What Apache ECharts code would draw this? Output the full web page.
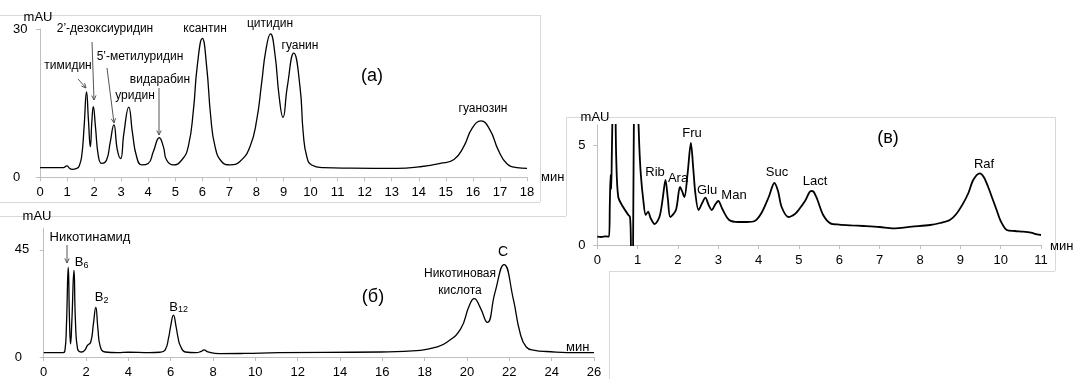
<!DOCTYPE html>
<html>
<head>
<meta charset="utf-8">
<script src="https://cdn.jsdelivr.net/npm/echarts@6/dist/echarts.min.js"></script>
<style>
html, body { margin: 0; padding: 0; background: #fff; }
#chart { width: 1073px; height: 379px; }
</style>
</head>
<body>
<div id="chart"></div>
<script>
// (а) nucleosides, time (min) / signal (mAU)
var aTime = [0, 0.5, 0.86, 0.99, 1.1, 1.18, 1.36, 1.45, 1.54, 1.63, 1.72, 1.79, 1.86, 1.92, 1.97, 2.05, 2.16, 2.28, 2.46, 2.59,
	2.73, 2.86, 2.98, 3.1, 3.28, 3.42, 3.57, 3.76, 4.0, 4.19, 4.41, 4.56, 4.68, 4.93, 5.24, 5.48, 5.67, 5.81, 6.0, 6.16,
	6.31, 6.47, 6.71, 7.02, 7.39, 7.76, 8.01, 8.19, 8.35, 8.52, 8.68, 8.84, 8.98, 9.14, 9.38, 9.61, 9.73, 9.86, 10.04, 10.47,
	11.5, 13.2, 14.0, 14.8, 15.3, 15.66, 15.97, 16.3, 16.63, 16.94, 17.25, 17.62, 18.0];
var aSignal = [1.95, 1.95, 1.95, 2.3, 1.8, 1.6, 1.8, 2.3, 4.2, 10.2, 17.3, 11.6, 6.2, 11.6, 14.3, 10.2, 4.2, 2.8, 3.5, 6.9,
	10.6, 5.5, 3.8, 8.9, 14.2, 8.9, 4.2, 2.5, 2.8, 5.2, 8.0, 6.2, 3.5, 2.5, 3.5, 6.2, 13.6, 22.4, 28.1, 22.4,
	12.3, 6.2, 3.2, 2.5, 3.2, 6.2, 11.6, 19, 25.8, 29.0, 25.1, 16.3, 12.1, 18.3, 25.1, 18.3, 8.9, 4.2, 2.5, 1.95,
	1.85, 1.8, 2.1, 2.8, 3.6, 6.2, 9.9, 11.4, 9.6, 5.5, 2.8, 1.95, 1.8];

// (б) vitamins
var bTime = [0, 0.9, 1.0, 1.07, 1.16, 1.22, 1.27, 1.33, 1.43, 1.5, 1.6, 1.8, 1.95, 2.06, 2.22, 2.35, 2.46, 2.56, 2.66, 2.9,
	3.5, 4.0, 5.0, 5.5, 5.74, 5.9, 6.0, 6.13, 6.25, 6.35, 6.45, 6.69, 7.2, 7.45, 7.58, 7.75, 8.3, 9.5, 11.1, 15.9,
	17.8, 18.5, 19.05, 19.7, 20.1, 20.34, 20.62, 20.96, 21.32, 21.75, 22.19, 22.5, 22.8, 23.2, 23.76, 25.3, 26.0];
var bSignal = [1.8, 1.8, 2.5, 12, 37.6, 15, 5.5, 15, 36.3, 15, 3.4, 2.1, 3, 4.8, 6.2, 14, 20.8, 12, 4.8, 2.1,
	1.8, 2.0, 1.8, 2.0, 3.0, 8, 13, 17.6, 13, 8, 4.8, 2.1, 1.8, 2.4, 3.0, 2.2, 1.4, 1.5, 1.8, 2.1,
	2.8, 4.0, 6.2, 11.8, 21.4, 24.5, 20.8, 14.5, 27, 38.8, 24.2, 10.4, 4.2, 2.8, 2.3, 1.8, 1.8];

// (в) sugars
var cTime = [0, 0.1, 0.2, 0.29, 0.31, 0.33, 0.345, 0.36, 0.38, 0.42, 0.45, 0.47, 0.52, 0.64, 0.77, 0.81, 0.83, 0.845, 0.875, 0.89,
	0.91, 0.95, 1.01, 1.04, 1.08, 1.14, 1.2, 1.26, 1.32, 1.42, 1.54, 1.62, 1.69, 1.75, 1.81, 1.95, 2.05, 2.1, 2.16, 2.24,
	2.32, 2.38, 2.43, 2.51, 2.6, 2.68, 2.76, 2.84, 2.93, 3.0, 3.1, 3.27, 3.5, 3.7, 3.9, 4.07, 4.25, 4.39, 4.48, 4.57,
	4.74, 4.9, 4.99, 5.15, 5.3, 5.36, 5.45, 5.6, 5.78, 6.0, 6.3, 6.6, 7.0, 7.34, 7.8, 8.25, 8.5, 8.74, 8.9, 9.07,
	9.2, 9.32, 9.48, 9.58, 9.69, 9.8, 9.9, 10.0, 10.15, 10.35, 10.56, 10.75, 10.9, 11.0];
var cSignal = [0.42, 0.4, 0.43, 0.42, 2.0, 3.5, 2.8, 4.5, 7, 12, 7, 4.3, 2.4, 1.9, 1.5, 1.4, 0.5, -2, -2, 1,
	7, 14, 7, 5, 3.5, 2.25, 1.5, 1.67, 1.35, 1.05, 1.4, 2.3, 3.25, 2.3, 1.4, 1.75, 2.9, 2.7, 2.4, 3.6,
	5.1, 3.8, 2.6, 1.75, 2.1, 2.37, 2.0, 1.75, 2.05, 2.2, 1.8, 1.25, 1.15, 1.15, 1.2, 1.6, 2.4, 3.1, 2.7, 1.9,
	1.4, 1.55, 1.75, 2.2, 2.7, 2.67, 2.3, 1.5, 1.08, 1.02, 0.98, 0.95, 0.9, 0.83, 0.92, 1.0, 1.1, 1.25, 1.55, 2.08,
	2.6, 3.25, 3.58, 3.4, 2.9, 2.3, 1.75, 1.2, 0.75, 0.7, 0.67, 0.62, 0.53, 0.5];

function zip(t, v) {
	var out = [];
	for (var i = 0; i < t.length; i++) out.push([t[i], v[i]]);
	return out;
}

var FONT = '"Liberation Sans", Arial, sans-serif';
var AXIS_GRAY = '#bfbfbf';
var BOX_GRAY = '#d9d9d9';

function xAxisOf(gi, max, step) {
	return {
		type: 'value', gridIndex: gi, min: 0, max: max, interval: step,
		axisLine: { show: true, lineStyle: { color: AXIS_GRAY } },
		axisTick: { show: true, length: 4, lineStyle: { color: AXIS_GRAY } },
		axisLabel: { color: '#000', fontSize: 13, fontFamily: FONT, margin: 9 },
		splitLine: { show: false }
	};
}

function yAxisOf(gi, max, step, labels, margin) {
	return {
		type: 'value', gridIndex: gi, min: 0, max: max, interval: step,
		axisLine: { show: true, lineStyle: { color: AXIS_GRAY } },
		axisTick: { show: true, length: 4, customValues: labels, lineStyle: { color: AXIS_GRAY } },
		axisLabel: { color: '#000', fontSize: 13, fontFamily: FONT, align: 'left', margin: margin, customValues: labels },
		splitLine: { show: false }
	};
}

function txt(s, x, y, size, align) {
	return {
		type: 'text', silent: true,
		style: { text: s, x: x, y: y, fill: '#000', font: (size || 13) + 'px ' + FONT, align: align || 'center', verticalAlign: 'middle' }
	};
}

function seg(x1, y1, x2, y2, color) {
	return { type: 'line', silent: true, shape: { x1: x1, y1: y1, x2: x2, y2: y2 }, style: { stroke: color, lineWidth: 1 } };
}

function arrow(x1, y1, x2, y2) {
	var a = Math.atan2(y2 - y1, x2 - x1), h = 5, s = 0.45;
	return [
		seg(x1, y1, x2, y2, '#555'),
		{
			type: 'polyline', silent: true,
			shape: { points: [[x2 - h * Math.cos(a - s), y2 - h * Math.sin(a - s)], [x2, y2], [x2 - h * Math.cos(a + s), y2 - h * Math.sin(a + s)]] },
			style: { stroke: '#555', lineWidth: 1, fill: null }
		}
	];
}

var chart = echarts.init(document.getElementById('chart'));

var graphics = [
	// frames of the three pasted panels
	seg(0, 15.5, 540, 15.5, BOX_GRAY), seg(540.5, 15, 540.5, 202, BOX_GRAY), seg(0, 202.5, 540, 202.5, BOX_GRAY),
	seg(0, 216.5, 566, 216.5, BOX_GRAY), seg(609.5, 271, 609.5, 379, BOX_GRAY),
	seg(566, 117.5, 1055, 117.5, BOX_GRAY), seg(566.5, 117, 566.5, 216, BOX_GRAY),
	seg(1055.5, 117, 1055.5, 271, BOX_GRAY), seg(609, 271.5, 1055, 271.5, BOX_GRAY),

	// (а)
	txt('mAU', 38, 17), txt('мин', 541, 177, 13, 'left'),
	txt('тимидин', 68, 66, 12), txt('2’-дезоксиуридин', 105, 29, 12), txt('5’-метилуридин', 140, 57, 12),
	txt('уридин', 135, 96, 12), txt('видарабин', 160, 80, 12), txt('ксантин', 205, 29, 12),
	txt('цитидин', 270, 24, 12), txt('гуанин', 300, 46, 12), txt('гуанозин', 483, 109, 12),
	txt('(а)', 372, 76, 18),

	// (б)
	txt('mAU', 37, 216), txt('мин', 566, 347, 13, 'left'),
	txt('Никотинамид', 90, 237),
	txt('B', 79, 262), txt('6', 83.6, 266, 9, 'left'),
	txt('B', 99, 297), txt('2', 103.5, 301, 9, 'left'),
	txt('B', 173.5, 307), txt('12', 178, 310, 9, 'left'),
	txt('(б)', 373, 297, 18),
	txt('Никотиновая', 460, 274, 12), txt('кислота', 460, 291, 12),
	txt('C', 503, 252, 14),

	// (в)
	txt('mAU', 595, 117), txt('мин', 1050, 246, 13, 'left'),
	txt('Rib', 655, 172), txt('Ara', 678, 178), txt('Fru', 692, 133), txt('Glu', 707, 190),
	txt('Man', 734, 195), txt('Suc', 777, 172), txt('Lact', 815, 181), txt('Raf', 984, 164),
	txt('(в)', 888, 138, 18)
];
graphics = graphics.concat(
	arrow(78, 79, 86, 88), arrow(92, 42, 94, 100), arrow(107, 68, 114, 123), arrow(159, 88, 159, 135),
	arrow(67, 245, 67, 263)
);

var option = {
	animation: false,
	backgroundColor: '#fff',
	grid: [
		{ left: 40, top: 29, width: 487, height: 148.3 },
		{ left: 43.7, top: 228.3, width: 550.3, height: 130 },
		{ left: 597.3, top: 125, width: 443.7, height: 120 }
	],
	xAxis: [xAxisOf(0, 18, 1), xAxisOf(1, 26, 2), xAxisOf(2, 11, 1)],
	yAxis: [yAxisOf(0, 30, 30, [0, 30], 27), yAxisOf(1, 54, 45, [0, 45], 29), yAxisOf(2, 6, 5, [0, 5], 19)],
	series: [
		{ type: 'line', xAxisIndex: 0, yAxisIndex: 0, data: zip(aTime, aSignal), smooth: 0.5, showSymbol: false, lineStyle: { color: '#000', width: 1.3 } },
		{ type: 'line', xAxisIndex: 1, yAxisIndex: 1, data: zip(bTime, bSignal), smooth: 0.5, showSymbol: false, lineStyle: { color: '#000', width: 1.3 } },
		{ type: 'line', xAxisIndex: 2, yAxisIndex: 2, data: zip(cTime, cSignal), smooth: 0.3, showSymbol: false, clip: true, lineStyle: { color: '#000', width: 1.8 } }
	],
	graphic: graphics
};
chart.setOption(option);
</script>
</body>
</html>
